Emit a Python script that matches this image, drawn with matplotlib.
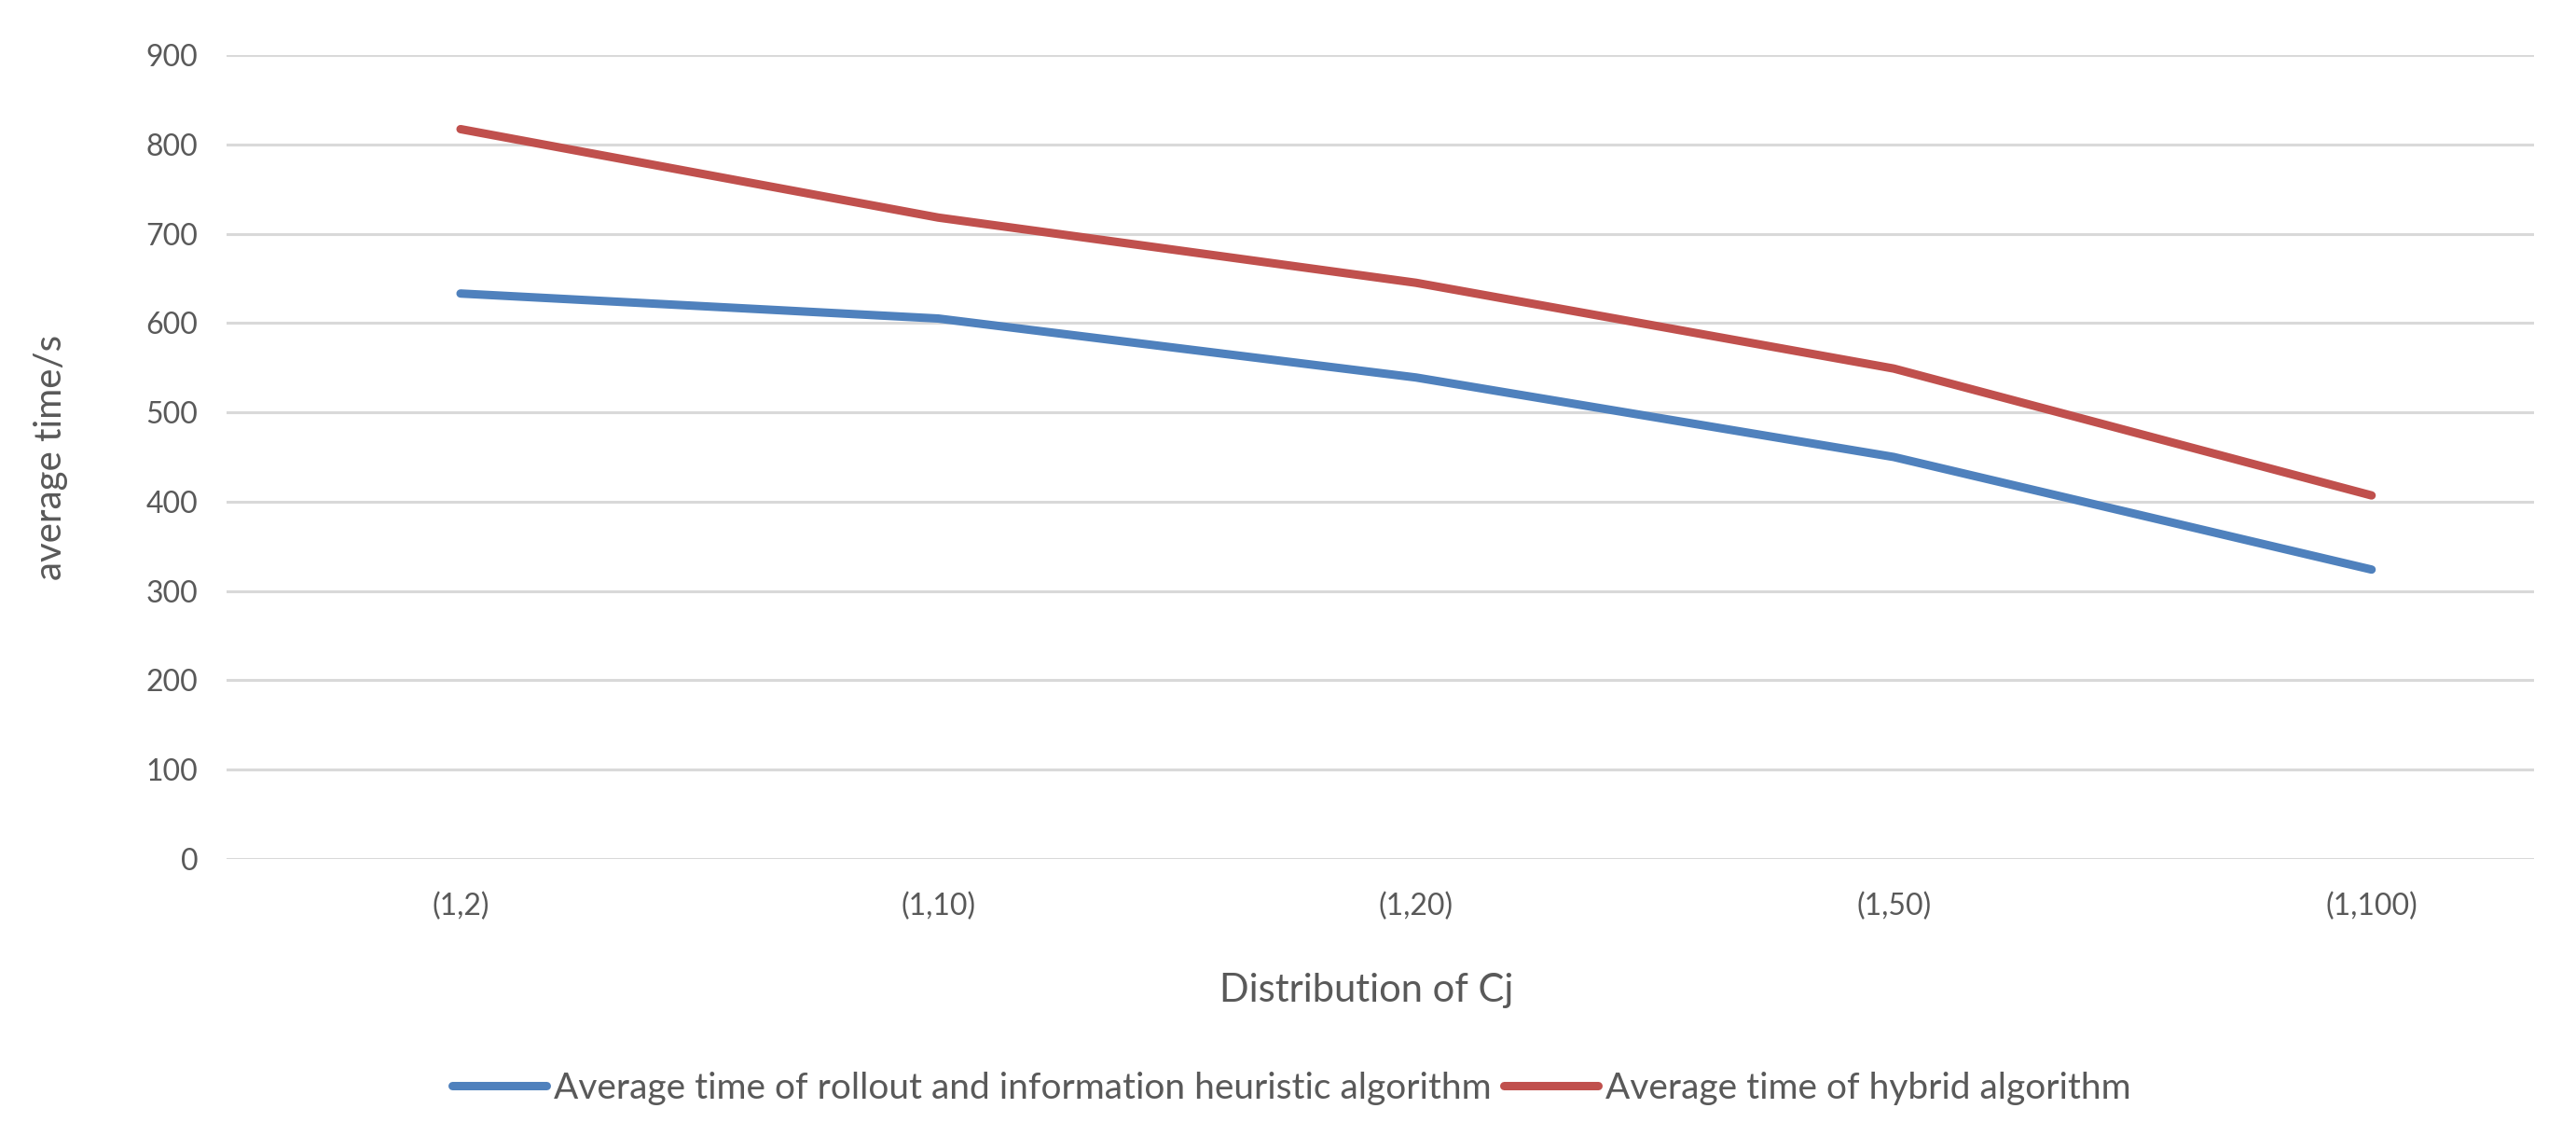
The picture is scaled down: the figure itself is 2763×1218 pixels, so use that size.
import matplotlib
matplotlib.use('Agg')
import matplotlib.pyplot as plt

# data
categories = ['(1,2)', '(1,10)', '(1,20)', '(1,50)', '(1,100)']
rollout_time = [633, 605, 539, 450, 324]
hybrid_time = [817, 718, 645, 549, 407]
yticks = [0, 100, 200, 300, 400, 500, 600, 700, 800, 900]

plt.rcParams['font.family'] = ['Lato', 'DejaVu Sans']

fig = plt.figure(figsize=(27.63, 12.18), dpi=100)
ax = fig.add_axes([0.0879, 0.2438, 0.8958, 0.7078])

x = list(range(len(categories)))
l1, = ax.plot(x, rollout_time, color='#4F81BD', linewidth=6.5, solid_capstyle='round',
              label='Average time of rollout and information heuristic algorithm')
l2, = ax.plot(x, hybrid_time, color='#C0504D', linewidth=6.5, solid_capstyle='round',
              label='Average time of hybrid algorithm')

ax.set_ylim(0, 900)
ax.set_xlim(-0.49, 4.34)
ax.set_yticks(yticks)
ax.set_xticks(x)
ax.set_xticklabels(categories)
ax.grid(axis='y', color='#D9D9D9', linewidth=2.2)
ax.set_axisbelow(True)
for s in ax.spines.values():
    s.set_visible(False)
ax.tick_params(axis='both', length=0, labelsize=23, colors='#595959')
ax.tick_params(axis='y', pad=22)
ax.tick_params(axis='x', pad=26)

ax.set_xlabel('Distribution of Cj', fontsize=30, color='#595959')
ax.xaxis.set_label_coords(0.494, -0.142)
ax.set_ylabel('average time/s', fontsize=29, color='#595959', labelpad=60)

fig.legend(handles=[l1, l2], loc='center', bbox_to_anchor=(1385 / 2763, 1 - 1167 / 1218),
           ncol=2, frameon=False, fontsize=28, handlelength=2.6, columnspacing=0.35,
           handletextpad=0.2, labelcolor='#595959')

fig.savefig('out.png', dpi=100, facecolor='white')
